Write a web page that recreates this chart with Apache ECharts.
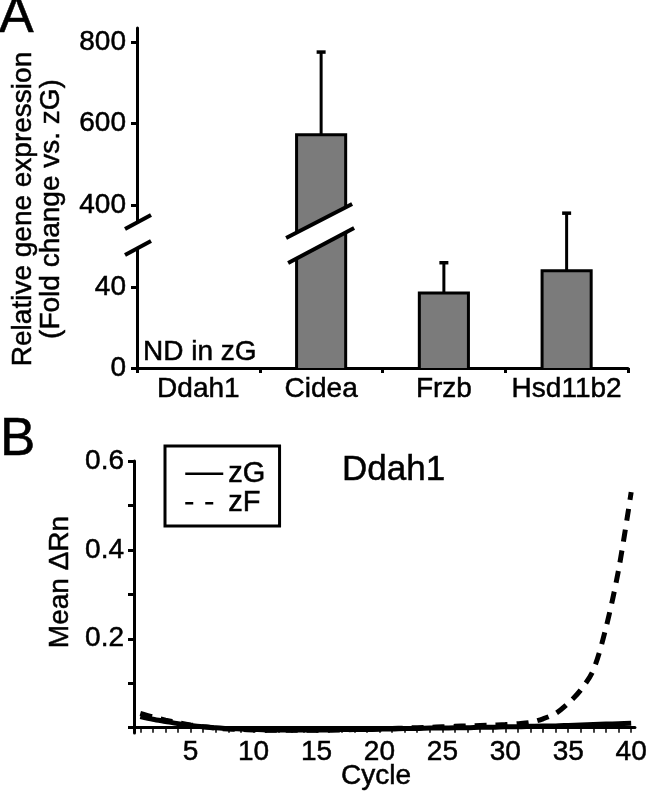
<!DOCTYPE html>
<html><head><meta charset="utf-8">
<script src="https://cdn.jsdelivr.net/npm/echarts@6/dist/echarts.min.js"></script>
<style>html,body{margin:0;padding:0;background:#fff}#c{width:650px;height:792px}</style>
</head><body><div id="c"></div>
<script>
// ---------- Panel A data ----------
const genes = ['Ddah1', 'Cidea', 'Frzb', 'Hsd11b2'];
const meanExpr = [null, 572, 37, 48];      // fold change (Ddah1 ND in zG)
const errTop = [null, 775, 52, 380];       // mean + error
const upperTicks = [400, 600, 800];
const lowerTicks = [0, 40];
const upperRange = [324, 834];
const lowerRange = [0, 65.2];

// ---------- Panel B data ----------
const cycles = [1,2,3,4,5,6,7,8,9,10,11,12,13,14,15,16,17,18,19,20,21,22,23,24,25,26,27,28,29,30,31,32,33,34,35,36,37,38,39,40];
const zG = [0.025,0.019,0.014,0.009,0.005,0.002,0.000,-0.002,-0.003,-0.004,-0.005,-0.005,-0.005,-0.005,-0.005,-0.005,-0.004,-0.004,-0.004,-0.003,-0.003,-0.002,-0.002,-0.001,-0.001,0.000,0.000,0.001,0.001,0.002,0.002,0.003,0.004,0.004,0.005,0.006,0.007,0.008,0.009,0.010];
const zF = [0.032,0.024,0.017,0.011,0.006,0.002,-0.001,-0.003,-0.004,-0.005,-0.006,-0.006,-0.006,-0.006,-0.006,-0.005,-0.005,-0.004,-0.004,-0.003,-0.002,-0.001,0.000,0.001,0.002,0.003,0.004,0.005,0.006,0.007,0.009,0.012,0.020,0.032,0.055,0.085,0.130,0.225,0.355,0.530];
const yTicksB = [0, 0.1, 0.2, 0.3, 0.4, 0.5, 0.6];
const yLabelsB = [0.2, 0.4, 0.6];
const xTicksB = cycles;
const xLabelsB = [5, 10, 15, 20, 25, 30, 35, 40];

const FONT = 'Liberation Sans, Arial, Helvetica, sans-serif';
const chart = echarts.init(document.getElementById('c'), null, {renderer: 'canvas'});

const gridA = {left: 137, width: 491};
const barData = genes.map((g, i) => [i, meanExpr[i], errTop[i]]).filter(d => d[1] != null);

function barRender(params, api) {
  const cs = params.coordSys;
  const cat = api.value(0), mean = api.value(1), top = api.value(2);
  const yMin = cs.y, yMax = cs.y + cs.height;
  const clampY = y => Math.max(yMin, Math.min(yMax, y));
  const bw = api.size([1, 0])[0] * 0.4;
  const cx = api.coord([cat, mean])[0];
  const l = cx - bw / 2, r = cx + bw / 2;
  const yMeanRaw = api.coord([cat, mean])[1];
  const yTopRaw = api.coord([cat, top])[1];
  const ch = [];
  const border = {stroke: '#000', lineWidth: 3, fill: null, lineJoin: 'miter'};
  if (yMeanRaw < yMax) {
    const yM = clampY(yMeanRaw);
    ch.push({type: 'rect', shape: {x: l, y: yM, width: bw, height: yMax - yM}, style: {fill: '#7b7b7b'}});
    if (yMeanRaw >= yMin) {
      ch.push({type: 'polyline', shape: {points: [[l, yMax], [l, yM], [r, yM], [r, yMax]]}, style: border});
    } else {
      ch.push({type: 'line', shape: {x1: l, y1: yMax, x2: l, y2: yM}, style: border});
      ch.push({type: 'line', shape: {x1: r, y1: yMax, x2: r, y2: yM}, style: border});
    }
  }
  const e1 = clampY(yMeanRaw), e2 = clampY(yTopRaw);
  if (e1 > e2) {
    ch.push({type: 'line', shape: {x1: cx, y1: e1, x2: cx, y2: e2}, style: {stroke: '#000', lineWidth: 3}});
  }
  if (yTopRaw >= yMin && yTopRaw <= yMax) {
    ch.push({type: 'line', shape: {x1: cx - 4.5, y1: yTopRaw, x2: cx + 4.5, y2: yTopRaw}, style: {stroke: '#000', lineWidth: 3.5}});
  }
  return {type: 'group', children: ch};
}

const axisLineStyle = {color: '#000', width: 3};
const labelStyle = {color: '#000', fontSize: 28, fontFamily: FONT, textBorderColor: '#000', textBorderWidth: 0.5};

const option = {
  animation: false,
  backgroundColor: '#fff',
  grid: [
    {left: gridA.left, width: gridA.width, top: 28, height: 208},
    {left: gridA.left, width: gridA.width, top: 236, height: 132},
    {left: 134, width: 503, top: 461, height: 272}
  ],
  xAxis: [
    {gridIndex: 0, type: 'category', data: genes, show: false},
    {gridIndex: 1, type: 'category', data: genes,
     axisLine: {show: true, onZero: false, lineStyle: axisLineStyle},
     axisTick: {show: true, inside: false, length: 5, lineStyle: {color: '#000', width: 3}},
     axisLabel: Object.assign({margin: 7, interval: 0}, labelStyle)},
    {gridIndex: 2, type: 'value', min: 0.5, max: 40.3,
     axisLine: {show: true, onZero: true, lineStyle: axisLineStyle},
     axisTick: {show: true, inside: false, length: 5, customValues: xTicksB, lineStyle: {color: '#000', width: 1.5}},
     axisLabel: Object.assign({margin: 5, customValues: xLabelsB}, labelStyle),
     splitLine: {show: false}}
  ],
  yAxis: [
    {gridIndex: 0, type: 'value', min: upperRange[0], max: upperRange[1],
     axisLine: {show: true, onZero: false, lineStyle: axisLineStyle},
     axisTick: {show: true, length: 6, customValues: upperTicks, lineStyle: {color: '#000', width: 3}},
     axisLabel: Object.assign({margin: 11, customValues: upperTicks}, labelStyle),
     splitLine: {show: false}},
    {gridIndex: 1, type: 'value', min: lowerRange[0], max: lowerRange[1],
     axisLine: {show: true, onZero: false, lineStyle: axisLineStyle},
     axisTick: {show: true, length: 6, customValues: lowerTicks, lineStyle: {color: '#000', width: 3}},
     axisLabel: Object.assign({margin: 11, customValues: lowerTicks}, labelStyle),
     splitLine: {show: false}},
    {gridIndex: 2, type: 'value', min: -0.012, max: 0.6,
     axisLine: {show: true, onZero: false, lineStyle: axisLineStyle},
     axisTick: {show: true, length: 6, customValues: yTicksB, lineStyle: {color: '#000', width: 3}},
     axisLabel: Object.assign({margin: 10, customValues: yLabelsB}, labelStyle),
     splitLine: {show: false}}
  ],
  legend: {
    orient: 'vertical', left: 165, top: 446, padding: [13, 14, 8, 19], itemGap: 0,
    itemWidth: 38, itemHeight: 14,
    borderColor: '#000', borderWidth: 3, borderRadius: 0, backgroundColor: '#fff',
    textStyle: {color: '#000', fontSize: 29, fontFamily: FONT, textBorderColor: '#000', textBorderWidth: 0.5},
    itemStyle: {opacity: 0, borderWidth: 0},
    lineStyle: {width: 2.5, color: '#000', opacity: 1},
    data: [{name: 'zG'}, {name: 'zF', lineStyle: {width: 2.5, color: '#000', opacity: 1, type: [8, 12]}}]
  },
  series: [
    {type: 'custom', name: 'upper', xAxisIndex: 0, yAxisIndex: 0, renderItem: barRender,
     encode: {x: 0, y: [1, 2]}, data: barData, silent: true},
    {type: 'custom', name: 'lower', xAxisIndex: 1, yAxisIndex: 1, renderItem: barRender,
     encode: {x: 0, y: [1, 2]}, data: barData, silent: true},
    {type: 'line', name: 'zF', xAxisIndex: 2, yAxisIndex: 2, data: cycles.map((c, i) => [c, zF[i]]),
     symbol: 'none', showSymbol: false, smooth: 0.3,
     lineStyle: {color: '#000', width: 5, type: [12, 9]}, itemStyle: {color: '#000'}},
    {type: 'line', name: 'zG', xAxisIndex: 2, yAxisIndex: 2, data: cycles.map((c, i) => [c, zG[i]]),
     symbol: 'none', showSymbol: false, smooth: 0.3,
     lineStyle: {color: '#000', width: 5}, itemStyle: {color: '#000'}}
  ]
};
chart.setOption(option);

function txt(x, y, text, size, align, rot) {
  return {type: 'text', x: x, y: y, rotation: rot || 0, z: 100,
    style: {text: text, fill: '#000', fontSize: size, fontFamily: FONT,
      stroke: '#000', lineWidth: 0.5,
      align: align, verticalAlign: 'middle', textAlign: align, textVerticalAlign: 'middle'}};
}

// break decorations anchored to the axes
const Y = chart.convertToPixel({yAxisIndex: 1}, lowerRange[1]);
const cxC = chart.convertToPixel({xAxisIndex: 1}, 'Cidea');
const ax = gridA.left;
const slash = (x1, y1, x2, y2) => ({type: 'line', z: 101, shape: {x1, y1, x2, y2}, style: {stroke: '#000', lineWidth: 4}});
const band = (pts) => ({type: 'polygon', z: 100, shape: {points: pts}, style: {fill: '#fff'}});

chart.setOption({
  graphic: [
    txt(-1, 18, 'A', 52, 'left'),
    txt(0, 440, 'B', 53, 'left'),
    txt(37, 209, 'Relative gene expression\n(Fold change vs. zG)', 28, 'center', Math.PI / 2),
    txt(143, 352, 'ND in zG', 28, 'left'),
    txt(60, 582, 'Mean \u0394Rn', 28, 'center', Math.PI / 2),
    txt(376, 776, 'Cycle', 28, 'center'),
    txt(342, 470, 'Ddah1', 35, 'left'),
    band([[ax - 12, Y - 7], [ax + 14, Y - 21], [ax + 14, Y + 5], [ax - 12, Y + 19]]),
    slash(ax - 12, Y - 7, ax + 14, Y - 21),
    slash(ax - 12, Y + 19, ax + 14, Y + 5),
    band([[cxC - 35, Y + 2], [cxC + 31, Y - 32], [cxC + 33, Y - 8], [cxC - 33, Y + 27]]),
    slash(cxC - 35, Y + 2, cxC + 31, Y - 32),
    slash(cxC - 33, Y + 27, cxC + 33, Y - 8)
  ]
});
</script>
</body></html>
